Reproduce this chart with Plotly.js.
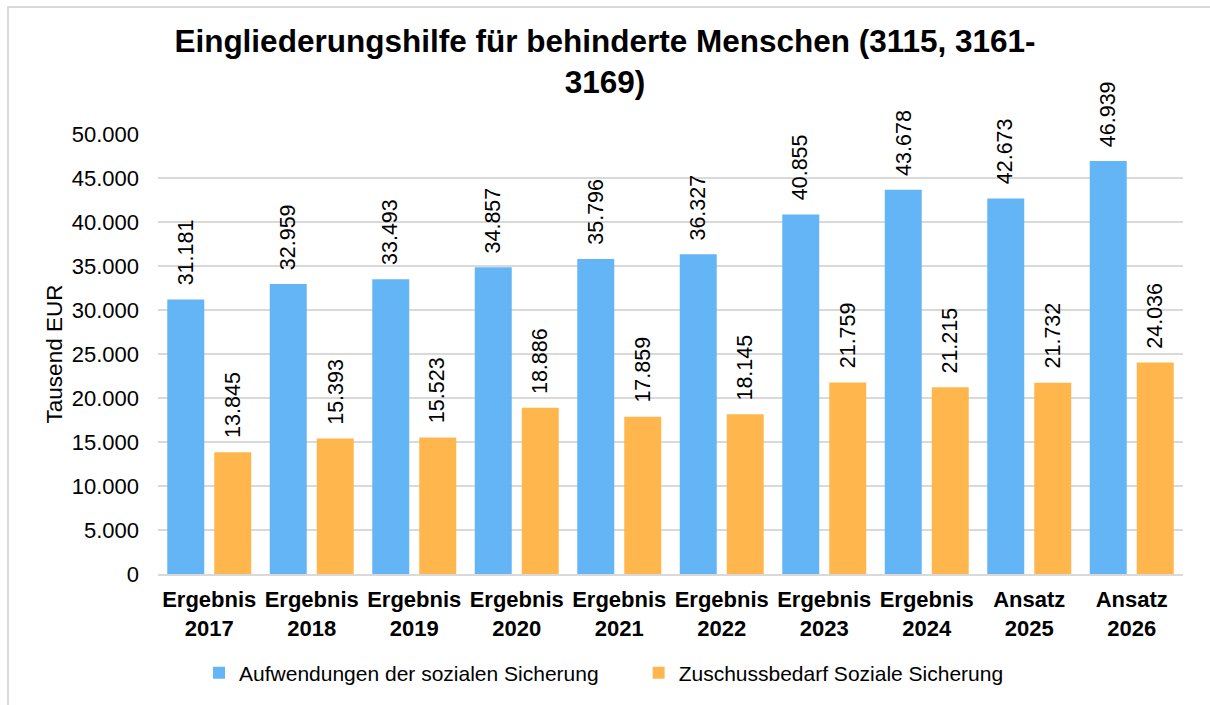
<!DOCTYPE html>
<html>
<head>
<meta charset="utf-8">
<script src="https://cdn.plot.ly/plotly-3.0.1.min.js"></script>
<style>
  html, body { margin: 0; padding: 0; overflow: hidden; background: #fff; }
  #chart { width: 1210px; height: 705px; }
  #frame { position: absolute; left: 7px; top: 6px; width: 1400px; height: 900px;
           border: 2px solid #d9d9d9; pointer-events: none; }
</style>
</head>
<body>
<div id="chart"></div>
<div id="frame"></div>
<script>
const categories = ["Ergebnis<br>2017", "Ergebnis<br>2018", "Ergebnis<br>2019", "Ergebnis<br>2020",
  "Ergebnis<br>2021", "Ergebnis<br>2022", "Ergebnis<br>2023", "Ergebnis<br>2024",
  "Ansatz<br>2025", "Ansatz<br>2026"];
const aufwendungen = [31181, 32959, 33493, 34857, 35796, 36327, 40855, 43678, 42673, 46939];
const zuschussbedarf = [13845, 15393, 15523, 18886, 17859, 18145, 21759, 21215, 21732, 24036];
const seriesNames = ["Aufwendungen der sozialen Sicherung", "Zuschussbedarf Soziale Sicherung"];
const yTickVals = [0, 5000, 10000, 15000, 20000, 25000, 30000, 35000, 40000, 45000, 50000];

const FONT = "Liberation Sans, Arial, sans-serif";
const BLUE = "#64B5F6";
const ORANGE = "#FFB74D";
const LEGEND_PAD = "\u00a0\u00a0\u00a0\u00a0\u00a0\u00a0";

function fmt(v) {
  return String(Math.round(v)).replace(/\B(?=(\d{3})+(?!\d))/g, ".");
}

const traces = [
  { type: "bar", name: seriesNames[0] + LEGEND_PAD, x: categories, y: aufwendungen,
    marker: { color: BLUE }, hoverinfo: "skip" },
  { type: "bar", name: seriesNames[1], x: categories, y: zuschussbedarf,
    marker: { color: ORANGE }, hoverinfo: "skip" }
];

const annotations = [];
[[aufwendungen, -23.5], [zuschussbedarf, 23.5]].forEach(([vals, dx]) => {
  vals.forEach((v, i) => {
    annotations.push({
      x: categories[i], y: v, xref: "x", yref: "y",
      text: fmt(v), showarrow: false, textangle: -90,
      xanchor: "center", yanchor: "bottom", xshift: dx, yshift: 12,
      font: { family: FONT, size: 21.5, color: "#000" }
    });
  });
});

const layout = {
  width: 1210, height: 705,
  paper_bgcolor: "#fff", plot_bgcolor: "#fff",
  margin: { l: 158, r: 27, t: 134, b: 131 },
  separators: ",.",
  font: { family: FONT, size: 21, color: "#000" },
  title: {
    text: "<b>Eingliederungshilfe für behinderte Menschen (3115, 3161-<br>3169)</b>",
    font: { family: FONT, size: 31.5, color: "#000" },
    x: 0.5, xref: "container", xanchor: "center",
    y: 1 - 52 / 705, yref: "container", yanchor: "top"
  },
  barmode: "group",
  bargap: 0.083,
  bargroupgap: 0.213,
  xaxis: {
    type: "category",
    showgrid: false,
    showline: true, linecolor: "#d9d9d9", linewidth: 2,
    ticks: "", ticklabelstandoff: 5,
    tickfont: { family: FONT, size: 22, color: "#000", weight: "bold" }
  },
  yaxis: {
    range: [0, 50000],
    tickvals: yTickVals,
    tickformat: ",d",
    showgrid: true, gridcolor: "#d9d9d9", gridwidth: 2,
    zeroline: false, showline: false,
    ticks: "", ticklabelstandoff: 18,
    tickfont: { family: FONT, size: 22, color: "#000" },
    title: { text: "Tausend EUR", font: { family: FONT, size: 22.5, color: "#000" }, standoff: 2 }
  },
  showlegend: true,
  legend: {
    orientation: "h", xref: "container", yref: "container",
    x: 0.4992, xanchor: "center", y: 1 - 673 / 705, yanchor: "middle",
    font: { family: FONT, size: 21, color: "#000" },
    itemwidth: 30, traceorder: "normal"
  },
  annotations: annotations
};

Plotly.newPlot("chart", traces, layout, { displayModeBar: false, staticPlot: true });
</script>
</body>
</html>
